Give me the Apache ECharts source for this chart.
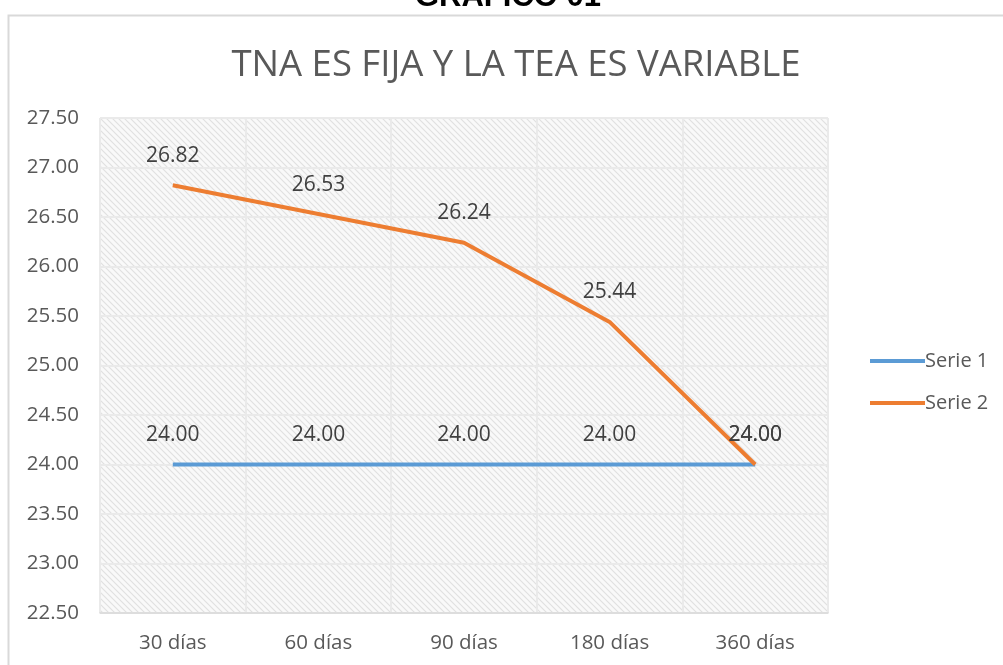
<!DOCTYPE html>
<html><head><meta charset="utf-8">
<script src="https://cdn.jsdelivr.net/npm/echarts@6/dist/echarts.min.js"></script>
<style>html,body{margin:0;padding:0;background:#fff}#c{width:1003px;height:665px}</style>
</head><body><div id="c"></div>
<script>
const categories = ['30 días', '60 días', '90 días', '180 días', '360 días'];
const serie1 = [24.00, 24.00, 24.00, 24.00, 24.00];
const serie2 = [26.82, 26.53, 26.24, 25.44, 24.00];
const seriesNames = ['Serie 1', 'Serie 2'];
const mainTitle = 'GRAFICO 01';
const chartTitle = 'TNA ES FIJA Y LA TEA ES VARIABLE';

const pc = document.createElement('canvas');
pc.width = 6; pc.height = 6;
const g = pc.getContext('2d');
g.fillStyle = '#f9f9f9'; g.fillRect(0,0,6,6);
g.strokeStyle = '#e0e0e0'; g.lineWidth = 1.1;
g.beginPath();
g.moveTo(-1,-1); g.lineTo(7,7);
g.moveTo(-7,-1); g.lineTo(1,7);
g.moveTo(5,-1); g.lineTo(13,7);
g.stroke();

const font = '"Open Sans", "Noto Sans", sans-serif';
const labelStyle = {show: true, position: 'top', distance: 19, fontFamily: font, fontSize: 21, color: '#404040', formatter: p => p.value.toFixed(2)};
const chart = echarts.init(document.getElementById('c'), null, {renderer:'canvas'});
chart.setOption({
  animation: false,
  backgroundColor: '#fff',
  title: {
    text: chartTitle, left: 511, top: 42, textAlign: 'center',
    textStyle: {fontFamily: '"Open Sans", sans-serif', fontWeight: 'normal', fontSize: 36.5, color: '#595959'}
  },
  graphic: [
    {type: 'rect', left: 6, top: 13, shape: {width: 1100, height: 700}, style: {fill: 'none', stroke: '#d9d9d9', lineWidth: 2}, z: 0},
    {type: 'text', x: 508, y: 13, style: {text: mainTitle, align: 'center', verticalAlign: 'bottom', font: 'bold 31px "Liberation Sans", Arial, sans-serif', fill: '#000'}}
  ],
  legend: {
    orient: 'vertical', left: 865, top: 346, itemWidth: 55, itemHeight: 4, itemGap: 22,
    icon: 'rect',
    textStyle: {fontFamily: font, fontSize: 20, color: '#595959', padding: [0,0,0,-5]},
    data: seriesNames
  },
  grid: {
    left: 100, right: 175, top: 118, bottom: 52, show: true,
    backgroundColor: {image: pc, repeat: 'repeat'}, borderWidth: 0
  },
  xAxis: {
    type: 'category', data: categories, boundaryGap: true,
    axisLine: {lineStyle: {color: '#d9d9d9', width: 1.5}},
    axisTick: {show: false},
    axisLabel: {fontFamily: font, fontSize: 20.5, color: '#595959', margin: 20},
    splitLine: {show: true, lineStyle: {color: '#eaeaea', width: 2}}
  },
  yAxis: {
    type: 'value', min: 22.5, max: 27.5, interval: 0.5,
    axisLine: {show: false}, axisTick: {show: false},
    axisLabel: {fontFamily: font, fontSize: 20.5, color: '#595959', margin: 21, formatter: v => v.toFixed(2)},
    splitLine: {lineStyle: {color: '#eaeaea', width: 2}}
  },
  series: [
    {name: seriesNames[0], type: 'line', data: serie1, symbol: 'circle', symbolSize: 0.01, showSymbol: true,
     lineStyle: {color: '#5b9bd5', width: 4}, itemStyle: {color: '#5b9bd5'},
     label: labelStyle},
    {name: seriesNames[1], type: 'line', data: serie2, symbol: 'circle', symbolSize: 0.01, showSymbol: true,
     lineStyle: {color: '#ed7d31', width: 4}, itemStyle: {color: '#ed7d31'},
     label: labelStyle}
  ]
});
</script></body></html>
